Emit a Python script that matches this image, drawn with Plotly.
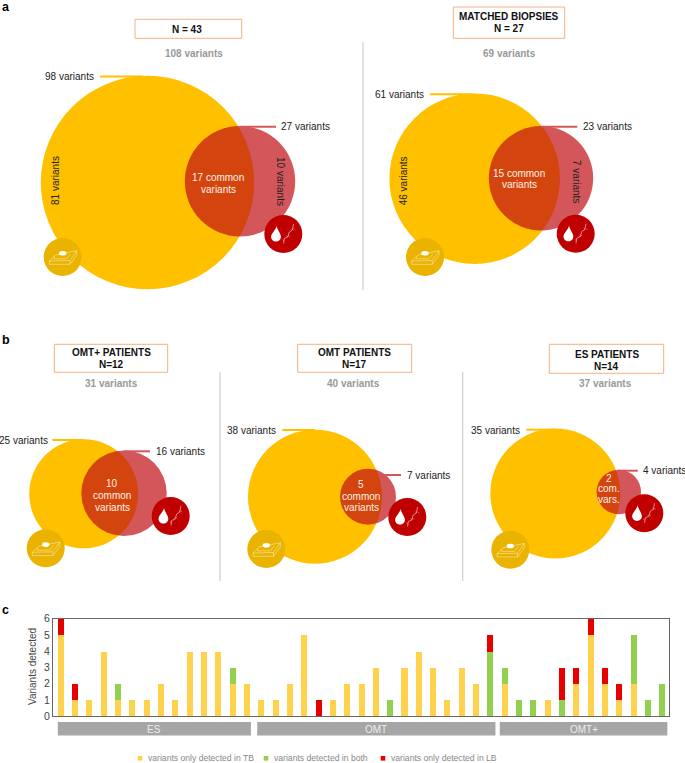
import plotly.graph_objects as go

# ---------- panel c data ----------
groups = ["ES", "OMT", "OMT+"]
group_sizes = [14, 17, 12]
only_tb = [5, 1, 1, 4, 1, 1, 1, 2, 1, 4, 4, 4, 2, 2,
           1, 1, 2, 5, 0, 1, 2, 2, 3, 0, 3, 4, 3, 1, 3, 2, 0,
           2, 0, 0, 1, 0, 2, 5, 2, 1, 2, 0, 0]
both = [0, 0, 0, 0, 1, 0, 0, 0, 0, 0, 0, 0, 1, 0,
        0, 0, 0, 0, 0, 0, 0, 0, 0, 1, 0, 0, 0, 0, 0, 0, 4,
        1, 1, 1, 0, 1, 0, 0, 0, 0, 3, 1, 2]
only_lb = [1, 1, 0, 0, 0, 0, 0, 0, 0, 0, 0, 0, 0, 0,
           0, 0, 0, 0, 1, 0, 0, 0, 0, 0, 0, 0, 0, 0, 0, 0, 1,
           0, 0, 0, 0, 2, 1, 1, 1, 1, 0, 0, 0]
legend_labels = ["variants only detected in TB", "variants detected in both", "variants only detected in LB"]
patients = list(range(len(only_tb)))

# ---------- panels a, b: text ----------
titles = [["N = 43"], ["MATCHED BIOPSIES", "N = 27"], ["OMT+ PATIENTS", "N=12"], ["OMT PATIENTS", "N=17"], ["ES PATIENTS", "N=14"]]
totals = ["108 variants", "69 variants", "31 variants", "40 variants", "37 variants"]
tb_labels = ["98 variants", "61 variants", "25 variants", "38 variants", "35 variants"]
lb_labels = ["27 variants", "23 variants", "16 variants", "7 variants", "4 variants"]
common_labels = [["17 common", "variants"], ["15 common", "variants"], ["10", "common", "variants"],
                 ["5", "common", "variants"], ["2", "com.", "vars."]]

# ---------- panels a, b: circle positions on the page axis ----------
tb_x = [147.5, 474.7, 83.7, 315.0, 555.3]
tb_y = [182.5, 178.7, 493.8, 496.7, 493.5]
tb_r = [106.7, 85.3, 54.5, 67.0, 65.0]
lb_x = [240.0, 541.0, 124.0, 368.0, 618.8]
lb_y = [181.3, 178.2, 493.3, 496.7, 492.0]
lb_r = [55.2, 52.2, 42.7, 28.0, 22.2]
tissue_icon_x = [62.7, 425.0, 45.7, 266.3, 510.3]
tissue_icon_y = [257.0, 257.0, 548.3, 549.0, 549.7]
blood_icon_x = [283.3, 575.7, 170.7, 407.3, 644.3]
blood_icon_y = [234.0, 233.7, 516.0, 517.0, 513.3]

YEL = "#FFC000"
RED_A = "rgba(193,16,20,0.7)"
RED_L = "#D4585B"
FONT = "Liberation Sans"
DARK = "#222222"
W, H = 685, 763

fig = go.Figure()

# stacked bars
for vals, col, name in zip([only_tb, both, only_lb], ["#FFD24D", "#92D050", "#E60000"], legend_labels):
    fig.add_trace(go.Bar(x=patients, y=vals, name=name, marker=dict(color=col, line=dict(width=0)),
                         width=0.42, showlegend=False))

# venn circles and icon discs
fig.add_trace(go.Scatter(x=tb_x, y=tb_y, mode="markers", xaxis="x2", yaxis="y2", showlegend=False,
                         marker=dict(size=[2 * r for r in tb_r], sizemode="diameter", color=YEL, opacity=1, line=dict(width=0))))
fig.add_trace(go.Scatter(x=lb_x, y=lb_y, mode="markers", xaxis="x2", yaxis="y2", showlegend=False,
                         marker=dict(size=[2 * r for r in lb_r], sizemode="diameter", color=RED_A, opacity=1, line=dict(width=0))))
fig.add_trace(go.Scatter(x=tissue_icon_x, y=tissue_icon_y, mode="markers", xaxis="x2", yaxis="y2", showlegend=False,
                         marker=dict(size=38, color="#EAB300", opacity=1, line=dict(width=0))))
fig.add_trace(go.Scatter(x=blood_icon_x, y=blood_icon_y, mode="markers", xaxis="x2", yaxis="y2", showlegend=False,
                         marker=dict(size=38, color="#C00000", opacity=1, line=dict(width=0))))

shapes, ann = [], []


def text(x, y, s, size=10, color=DARK, bold=False, anchor="center", angle=0):
    ann.append(dict(x=x, y=y, xref="x2", yref="y2", text=f"<b>{s}</b>" if bold else s, showarrow=False,
                    xanchor=anchor, yanchor="middle", textangle=angle, borderpad=0,
                    font=dict(family=FONT, size=size, color=color)))


def line(x0, y0, x1, y1, color, width):
    shapes.append(dict(type="line", xref="x2", yref="y2", x0=x0, y0=y0, x1=x1, y1=y1,
                       line=dict(color=color, width=width)))


# header boxes and titles
boxes = [(135, 19.3, 241.7, 38.3), (453.3, 7, 564.7, 38.3), (54.3, 344.3, 167.7, 372.3),
         (297.7, 344.3, 411.7, 372.3), (549.3, 344.3, 663.7, 373.3)]
title_x = [187, 508.7, 111, 354.7, 606.7]
title_y = [[29.3], [16.7, 28.7], [352.7, 364.7], [352.7, 364.7], [354, 366]]
for b, t, tx, tys in zip(boxes, titles, title_x, title_y):
    shapes.append(dict(type="rect", xref="x2", yref="y2", x0=b[0], y0=b[1], x1=b[2], y1=b[3],
                       line=dict(color="#F4B183", width=1), fillcolor="white"))
    for s, ty in zip(t, tys):
        text(tx, ty, s, bold=True, color="#111111")

# grey totals
for s, x, y in zip(totals, [194, 509.3, 111, 353.3, 605.3], [53, 53, 383.3, 383.3, 383.3]):
    text(x, y, s, color="#999999", bold=True)

# TB leader and label
tb_lead = [(100, 143, 76.4), (430, 473, 94.2), (52.3, 84, 440), (282.3, 315, 430), (526.3, 555, 429.7)]
tb_edge = [95, 425.3, 49, 277.3, 521]
for s, (x0, x1, y), e in zip(tb_labels, tb_lead, tb_edge):
    line(x0, y, x1, y, YEL, 2)
    text(e, y + 0.5, s, anchor="right")

# LB leader and label
lb_lead = [(240, 276, 126.8), (541, 577.3, 126.8), (124, 150, 451.3), (381.7, 401, 475), (618, 637.7, 470.7)]
lb_edge = [280, 581.7, 155, 406, 642.3]
for s, (x0, x1, y), e in zip(lb_labels, lb_lead, lb_edge):
    line(x0, y, x1, y, RED_L, 2)
    text(e, y, s, anchor="left")

# common labels
common_x = [218.3, 519, 112, 361.3, 609.3]
common_y = [[177, 189], [173.3, 184.3], [483.3, 495.3, 507], [484, 496, 507.7], [478.3, 488.7, 499]]
for ls, cx, ys in zip(common_labels, common_x, common_y):
    for s, y in zip(ls, ys):
        text(cx, y, s, color="#FFF2E6")

# rotated exclusive counts
text(55, 181, "81 variants", angle=-90)
text(281, 181, "10 variants", angle=90)
text(403.3, 181, "46 variants", angle=-90)
text(577, 181, "7 variants", angle=90)

# separators
for x, y0, y1 in [(363, 42, 290), (220, 372, 581), (462.7, 372, 581)]:
    line(x, y0, x, y1, "#CFCFCF", 1.2)

# panel letters
text(1, 7, "a", size=12.5, bold=True, color="black", anchor="left")
text(1, 340, "b", size=12.5, bold=True, color="black", anchor="left")
text(1, 610, "c", size=12.5, bold=True, color="black", anchor="left")


def pth(cx, cy, pts, close=False):
    d = "M " + " L ".join(f"{cx + a:.2f} {cy + b:.2f}" for a, b in pts)
    return d + (" Z" if close else "")


# tissue cassette glyph
for cx, cy in zip(tissue_icon_x, tissue_icon_y):
    for pts, cl in [([(-13.3, 4), (-7, -2), (14, -6.3), (7.3, 3.5)], True),
                    ([(-13.3, 4), (-13.3, 7.3), (7.3, 7.3), (14, -2), (14, -6.3)], False),
                    ([(7.3, 3.5), (7.3, 7.3)], False),
                    ([(-8.5, -0.5), (-8.5, 1.8), (4, 1.8), (8, -3)], False)]:
        shapes.append(dict(type="path", xref="x2", yref="y2", path=pth(cx, cy, pts, cl),
                           line=dict(color="rgba(255,255,255,0.6)", width=0.7)))
    shapes.append(dict(type="circle", xref="x2", yref="y2", x0=cx - 3.7, x1=cx + 3.7, y0=cy - 6, y1=cy - 1.4,
                       fillcolor="white", line=dict(width=0)))

# blood drop + DNA glyph
for cx, cy in zip(blood_icon_x, blood_icon_y):
    ax, ay, bx, by, r = cx - 6.7, cy - 8, cx - 7.3, cy + 2.7, 4.9
    k = 0.55 * r
    d = (f"M {ax} {ay} C {ax - 0.8} {ay + 4} {bx - r} {by - 3} {bx - r} {by} "
         f"C {bx - r} {by + k} {bx - k} {by + r} {bx} {by + r} "
         f"C {bx + k} {by + r} {bx + r} {by + k} {bx + r} {by} "
         f"C {bx + r} {by - 3} {ax + 0.8} {ay + 4} {ax} {ay} Z")
    shapes.append(dict(type="path", xref="x2", yref="y2", path=d, fillcolor="white", line=dict(width=0)))
    shapes.append(dict(type="path", xref="x2", yref="y2",
                       path=pth(cx, cy, [(0.3, 9.5), (1, 4.5), (4.5, 3), (6, -2), (9, -4), (10.3, -10)]),
                       line=dict(color="rgba(255,255,255,0.75)", width=0.7)))
    for a, b in [(-1, 5.5), (3, 1.5), (5, 1), (8, -5.5), (10, -5.5)]:
        shapes.append(dict(type="path", xref="x2", yref="y2",
                           path=pth(cx, cy, [(a, b), (a + 1.6, b + 1.6)]),
                           line=dict(color="rgba(255,255,255,0.6)", width=0.6)))

# group strips under the bars
start = 0
pad = [(-0.2, 0.28), (-0.28, 0.35), (-0.35, 0.35)]
for g, n, (p0, p1) in zip(groups, group_sizes, pad):
    x0, x1 = start + p0 - 0.0, start + n - 1 + p1
    shapes.append(dict(type="rect", xref="x", yref="y2", x0=x0, x1=x1, y0=722, y1=735.5,
                       fillcolor="#A6A6A6", line=dict(width=0)))
    ann.append(dict(x=(x0 + x1) / 2, y=729, xref="x", yref="y2", text=g, showarrow=False, borderpad=0,
                    font=dict(family=FONT, size=10, color="#EDEDED")))
    start += n

# hand-placed legend
for s, col, x in zip(legend_labels, ["#FFD24D", "#92D050", "#E60000"], [140, 266, 383]):
    shapes.append(dict(type="rect", xref="x2", yref="y2", x0=x - 2.3, x1=x + 2.3, y0=756, y1=760.6,
                       fillcolor=col, line=dict(width=0)))
    text(x + 6.8, 758.3, s, size=8.6, color="#888888", anchor="left")

# y axis title
text(32, 667, "Variants detected", color="#444444", angle=-90)

X0, X1, Y_TOP, Y_BOT = 53.0, 669.0, 618.7, 716.3
PX0, STEP = 60.7, 14.325
fig.update_layout(
    width=W, height=H, autosize=False, barmode="stack", bargap=0,
    margin=dict(l=0, r=0, t=0, b=0, pad=0, autoexpand=False), paper_bgcolor="white", plot_bgcolor="rgba(0,0,0,0)",
    shapes=shapes, annotations=ann, showlegend=False,
    xaxis=dict(domain=[X0 / W, X1 / W], range=[(X0 - PX0) / STEP, (X1 - PX0) / STEP], showticklabels=False,
               ticks="", showgrid=False, zeroline=False, showline=True, linecolor="#666666", linewidth=1, mirror=True),
    yaxis=dict(domain=[1 - Y_BOT / H, 1 - Y_TOP / H], range=[0, 6], tickvals=[0, 1, 2, 3, 4, 5, 6], ticks="",
               showgrid=False, zeroline=False, showline=True, linecolor="#666666", linewidth=1, mirror=True,
               tickfont=dict(family=FONT, size=10.5, color="#444444")),
    xaxis2=dict(domain=[0, 1], range=[0, W], anchor="y2", visible=False, fixedrange=True),
    yaxis2=dict(domain=[0, 1], range=[H, 0], anchor="x2", visible=False, fixedrange=True),
)

# the page's default 8px body margin would push the figure off the window
fig.write_html("out.html", config={"displayModeBar": False},
               post_script="document.body.style.margin='0';document.documentElement.style.overflow='hidden';")
